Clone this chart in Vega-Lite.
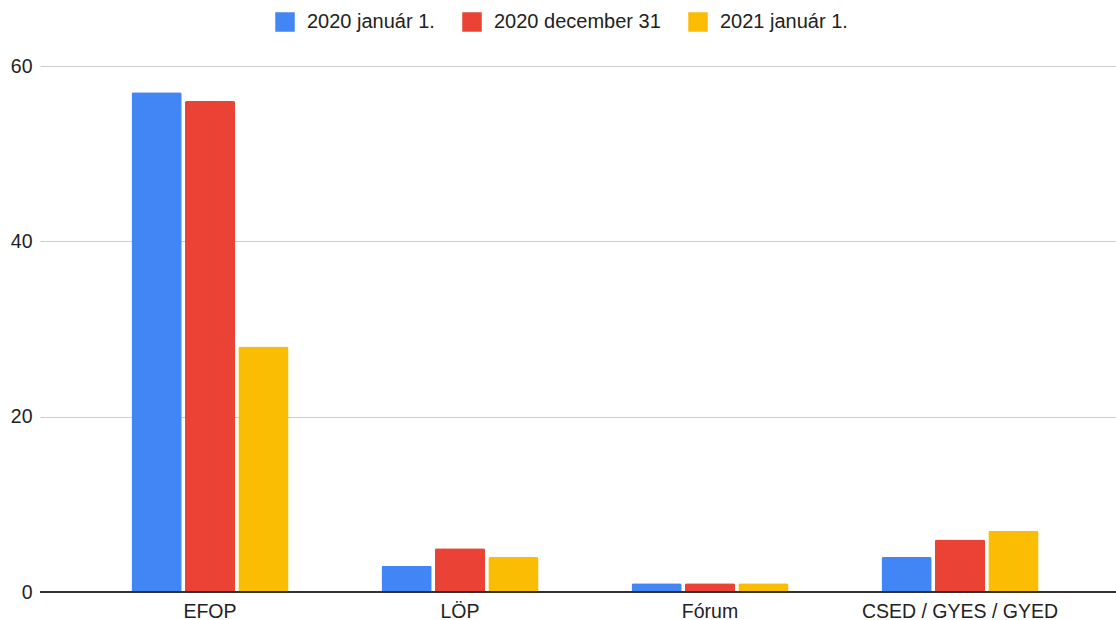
{
  "$schema": "https://vega.github.io/schema/vega-lite/v6.json",
  "width": 1090,
  "height": 526,
  "autosize": {"type": "none"},
  "padding": {"left": 40, "top": 66, "right": 0, "bottom": 28},
  "background": "white",
  "config": {
    "font": "Liberation Sans",
    "view": {"stroke": null}
  },
  "data": {
    "values": [
      {"cat": "EFOP", "series": "2020 január 1.", "value": 57},
      {"cat": "EFOP", "series": "2020 december 31", "value": 56},
      {"cat": "EFOP", "series": "2021 január 1.", "value": 28},
      {"cat": "LÖP", "series": "2020 január 1.", "value": 3},
      {"cat": "LÖP", "series": "2020 december 31", "value": 5},
      {"cat": "LÖP", "series": "2021 január 1.", "value": 4},
      {"cat": "Fórum", "series": "2020 január 1.", "value": 1},
      {"cat": "Fórum", "series": "2020 december 31", "value": 1},
      {"cat": "Fórum", "series": "2021 január 1.", "value": 1},
      {"cat": "CSED / GYES / GYED", "series": "2020 január 1.", "value": 4},
      {"cat": "CSED / GYES / GYED", "series": "2020 december 31", "value": 6},
      {"cat": "CSED / GYES / GYED", "series": "2021 január 1.", "value": 7}
    ]
  },
  "layer": [
    {
      "mark": {"type": "bar", "cornerRadiusTopLeft": 2, "cornerRadiusTopRight": 2},
      "encoding": {
        "x": {
          "field": "cat",
          "type": "nominal",
          "sort": null,
          "scale": {"paddingInner": 0.372, "paddingOuter": 0.366},
          "axis": {
            "title": null,
            "labelAngle": 0,
            "labelFontSize": 19.5,
            "labelColor": "#222222",
            "labelLimit": 0,
            "ticks": false,
            "domain": false,
            "labelPadding": 10
          }
        },
        "xOffset": {
          "field": "series",
          "type": "nominal",
          "sort": null,
          "scale": {"paddingInner": 0.06}
        },
        "y": {
          "field": "value",
          "type": "quantitative",
          "scale": {"domain": [0, 60], "nice": false},
          "axis": {
            "title": null,
            "values": [0, 20, 40, 60],
            "labelFontSize": 19.5,
            "labelColor": "#222222",
            "gridColor": "#cccccc",
            "ticks": false,
            "domain": false,
            "labelPadding": 8
          }
        },
        "color": {
          "field": "series",
          "type": "nominal",
          "sort": null,
          "scale": {"range": ["#4285f4", "#ea4335", "#fbbc04"]},
          "legend": {
            "title": null,
            "orient": "none",
            "legendX": 235,
            "legendY": -54,
            "direction": "horizontal",
            "symbolType": "square",
            "symbolSize": 380,
            "symbolStrokeWidth": 0,
            "labelFontSize": 20,
            "labelColor": "#222222",
            "labelLimit": 0,
            "columnPadding": 27,
            "labelOffset": 12
          }
        }
      }
    },
    {
      "mark": {"type": "rule", "color": "#333333", "strokeWidth": 1.5},
      "encoding": {"y": {"datum": 0}}
    }
  ]
}
